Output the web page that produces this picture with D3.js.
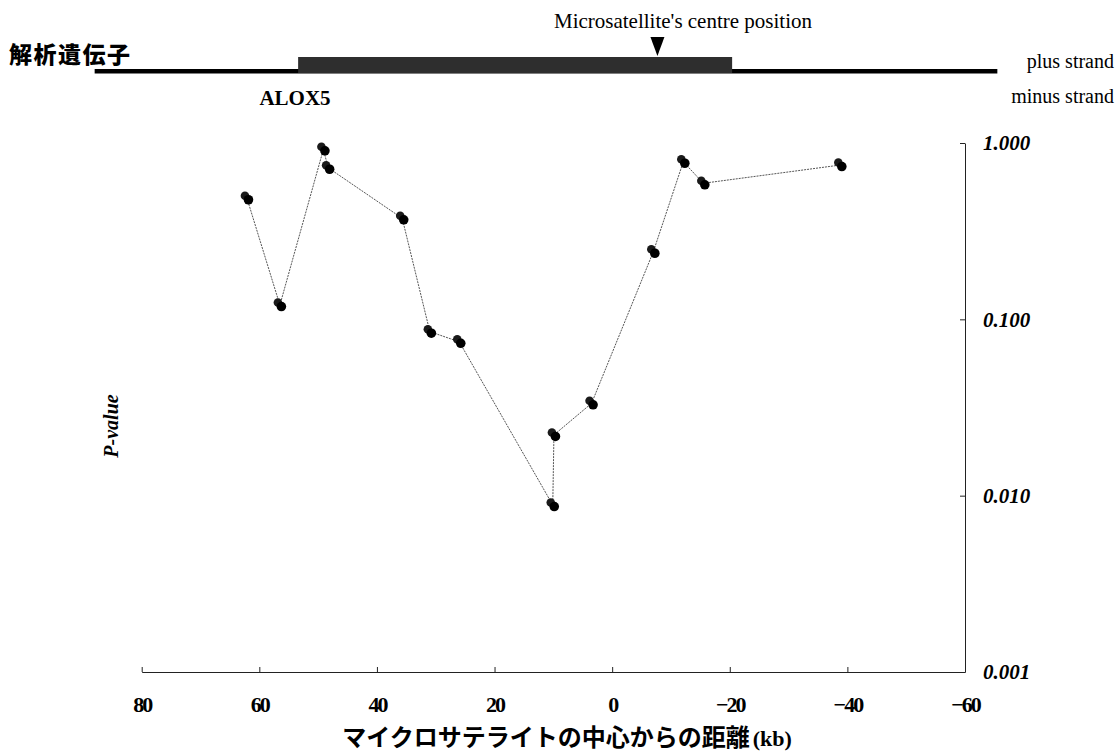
<!DOCTYPE html>
<html>
<head>
<meta charset="utf-8">
<script src="https://cdn.jsdelivr.net/npm/d3@7"></script>
<style>
  html, body { margin: 0; padding: 0; background: #fff; }
  svg { display: block; }
</style>
</head>
<body>
<svg id="chart" width="1119" height="752"></svg>
<script>
// ---- data ----
const positionsKb = [62.1, 56.5, 49.1, 48.3, 35.7, 31.0, 26.0, 10.1, 9.9, 3.5, -7.0, -12.1, -15.5, -38.8];
const pValues     = [0.486, 0.1205, 0.921, 0.724, 0.374, 0.0851, 0.0746, 0.00885, 0.0221, 0.0334, 0.2417, 0.783, 0.591, 0.750];
const xTickValues = [80, 60, 40, 20, 0, -20, -40, -60];
const yTickValues = [1, 0.1, 0.01, 0.001];
const xDomain = [80, -60];
const yDomain = [0.001, 1];
// gene track (kb units on the same x scale)
const trackLine = [88, -65.5];
const geneSpan = [53.4, -20.4];
const markerKb = -7.7;

const texts = {
  geneHeader: "解析遺伝子",
  geneName: "ALOX5",
  marker: "Microsatellite's centre position",
  plus: "plus strand",
  minus: "minus strand",
  xTitleJa: "マイクロサテライトの中心からの距離",
  xTitleUnit: "(kb)",
  yTitle: "P-value"
};

// ---- layout ----
const svg = d3.select("#chart");
const serif = "'Liberation Serif', 'Times New Roman', serif";
const cjk = "'Noto Sans CJK JP', 'Noto Sans CJK SC', sans-serif";

const x = d3.scaleLinear().domain(xDomain).range([141.7, 965]);
const y = d3.scaleLog().domain(yDomain).range([672, 143]);

// ---- header / gene track ----
svg.append("text").attr("x", 9).attr("y", 63)
  .attr("font-family", cjk).attr("font-weight", 900).attr("font-size", 23)
  .attr("letter-spacing", 1.5)
  .text(texts.geneHeader);

svg.append("rect")
  .attr("x", x(trackLine[0])).attr("y", 69)
  .attr("width", x(trackLine[1]) - x(trackLine[0])).attr("height", 4.5)
  .attr("fill", "#000");

svg.append("rect")
  .attr("x", x(geneSpan[0])).attr("y", 57)
  .attr("width", x(geneSpan[1]) - x(geneSpan[0])).attr("height", 16)
  .attr("fill", "#2e2e2e");

const mx = x(markerKb);
svg.append("path")
  .attr("d", `M${mx - 7},37 L${mx + 7},37 L${mx},56 Z`)
  .attr("fill", "#000");

svg.append("text").attr("x", 683).attr("y", 28).attr("text-anchor", "middle")
  .attr("font-family", serif).attr("font-size", 21).text(texts.marker);

svg.append("text").attr("x", 1114).attr("y", 68).attr("text-anchor", "end")
  .attr("font-family", serif).attr("font-size", 20).text(texts.plus);
svg.append("text").attr("x", 1114).attr("y", 103).attr("text-anchor", "end")
  .attr("font-family", serif).attr("font-size", 20).text(texts.minus);

svg.append("text").attr("x", 295).attr("y", 105).attr("text-anchor", "middle")
  .attr("font-family", serif).attr("font-weight", 700).attr("font-size", 21)
  .text(texts.geneName);

// ---- axes ----
const xAxis = d3.axisBottom(x).tickValues(xTickValues).tickSizeInner(-5).tickSizeOuter(0)
  .tickPadding(24).tickFormat(d3.format("d"));
const gx = svg.append("g").attr("transform", "translate(0,672)").call(xAxis);
gx.selectAll("text").attr("font-family", serif).attr("font-weight", 700)
  .attr("font-size", 22).attr("fill", "#000").attr("letter-spacing", -2);
gx.selectAll("line, path").attr("stroke", "#222");

const yAxis = d3.axisRight(y).tickValues(yTickValues).tickSizeInner(-5).tickSizeOuter(0)
  .tickPadding(18).tickFormat(d3.format(".3f"));
const gy = svg.append("g").attr("transform", "translate(965,0)").call(yAxis);
gy.selectAll("text").attr("font-family", serif).attr("font-weight", 700)
  .attr("font-style", "italic").attr("font-size", 21).attr("fill", "#000");
gy.selectAll("line, path").attr("stroke", "#222");

const xt = svg.append("text").attr("x", 567).attr("y", 746).attr("text-anchor", "middle")
  .attr("font-weight", 700).attr("font-size", 24);
xt.append("tspan").attr("font-family", cjk).text(texts.xTitleJa);
xt.append("tspan").attr("font-family", serif).attr("font-size", 22).attr("dx", 3).text(texts.xTitleUnit);

svg.append("text")
  .attr("transform", "translate(118,426) rotate(-90)")
  .attr("text-anchor", "middle")
  .attr("font-family", serif).attr("font-weight", 700).attr("font-style", "italic")
  .attr("font-size", 20).text(texts.yTitle);

// ---- series ----
const pts = positionsKb.map((k, i) => ({ k, p: pValues[i] }));
svg.append("path").datum(pts)
  .attr("fill", "none").attr("stroke", "#555").attr("stroke-width", 1)
  .attr("stroke-dasharray", "2,1")
  .attr("d", d3.line().x(d => x(d.k)).y(d => y(d.p)));

const g = svg.append("g");
g.selectAll("circle.a").data(pts).join("circle").attr("class", "a")
  .attr("cx", d => x(d.k) - 2).attr("cy", d => y(d.p) - 2.5).attr("r", 4.3)
  .attr("fill", "#1a1a1a");
g.selectAll("circle.b").data(pts).join("circle").attr("class", "b")
  .attr("cx", d => x(d.k) + 1.5).attr("cy", d => y(d.p) + 1.5).attr("r", 4.8)
  .attr("fill", "#000");
</script>
</body>
</html>
